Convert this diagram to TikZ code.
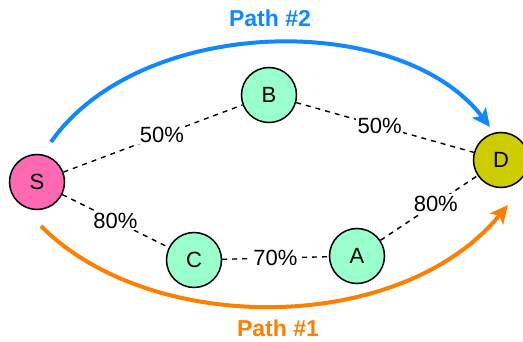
\documentclass[tikz,border=0pt]{standalone}
\usepackage{fontspec}
\setmainfont{Liberation Sans}
\usetikzlibrary{arrows.meta}
\definecolor{pinkS}{RGB}{255,105,180}
\definecolor{mint}{RGB}{153,255,204}
\definecolor{olive}{RGB}{204,204,0}
\definecolor{pathblue}{RGB}{17,136,255}
\definecolor{pathorange}{RGB}{255,128,0}
\begin{document}
\begin{tikzpicture}[x=1pt,y=-1pt,
  vertex/.style={circle,draw=black,line width=1.5pt,minimum size=55pt,inner sep=0pt,font=\fontsize{22}{26}\selectfont},
  edge/.style={dashed,line width=1.4pt,dash pattern=on 5pt off 5pt},
  wlabel/.style={fill=white,inner sep=1.5pt,font=\fontsize{22}{26}\selectfont},
  pathlabel/.style={font=\fontsize{23}{27}\selectfont\bfseries},
  patharrow/.style={line width=4pt,-{Stealth[length=18pt,width=17pt,inset=4pt]}}]
\useasboundingbox (0,0) rectangle (523,342);
\node[vertex,fill=pinkS] (S) at (37,182) {S};
\node[vertex,fill=mint] (B) at (269,95) {B};
\node[vertex,fill=olive] (D) at (501,160) {D};
\node[vertex,fill=mint] (C) at (194,260) {C};
\node[vertex,fill=mint] (A) at (357,256) {A};
\draw[edge] (S) -- node[wlabel,pos=0.55] {50\%} (B);
\draw[edge] (B) -- node[wlabel,pos=0.47] {50\%} (D);
\draw[edge] (S) -- node[wlabel,pos=0.5] {80\%} (C);
\draw[edge] (C) -- node[wlabel,pos=0.5] {70\%} (A);
\draw[edge] (A) -- node[wlabel,pos=0.57] {80\%} (D);
\coordinate (b0) at (51,142);
\coordinate (b1) at (490,127);
\coordinate (o0) at (41,226);
\coordinate (o1) at (508,205);
\draw[patharrow,pathblue] (b0) .. controls (140,15) and (400,10) .. (b1);
\draw[patharrow,pathorange] (o0) .. controls (150,336) and (400,336) .. (o1);
\node[pathlabel,text=pathblue] (p2) at (270,18) {Path \#2};
\node[pathlabel,text=pathorange] (p1) at (278,328) {Path \#1};
\end{tikzpicture}
\end{document}
